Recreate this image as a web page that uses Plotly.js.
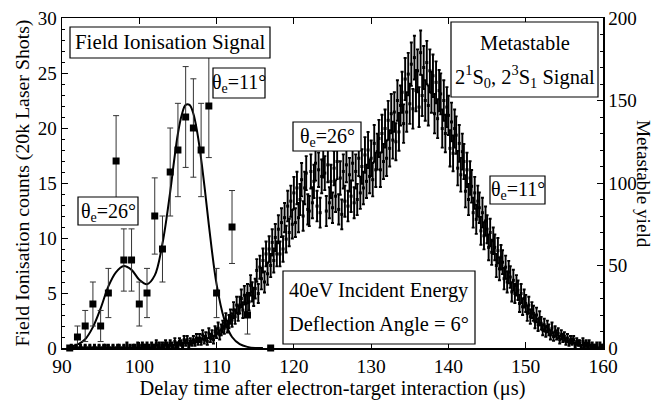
<!DOCTYPE html>
<html>
<head>
<meta charset="utf-8">
<script src="https://cdn.plot.ly/plotly-3.0.1.min.js"></script>
<style>
html,body{margin:0;padding:0;background:#fff;}
#chart{width:660px;height:404px;}
</style>
</head>
<body>
<div id="chart"></div>
<script>
// ---- Field ionisation data (left axis) ----
const fiTime = [91, 92, 93, 94, 95, 96, 97, 98, 99, 100, 101, 102, 103, 104, 105, 106, 107, 108, 109, 110, 112, 114, 117];
const fiCounts = [0, 1, 2, 4, 2, 5, 17, 8, 8, 4, 5, 12, 9, 16, 18, 21, 20, 18, 22, 5, 11, 3, 0];

// ---- Fit curve ----
const fitTime = [91, 92, 93, 94, 95, 96, 97, 98, 99, 100, 101, 102, 103, 104, 104.5, 105, 105.5, 106, 106.5, 107, 107.5, 108, 108.5, 109, 110, 111, 112, 113, 114, 115, 116];
const fitCounts = [0.1, 0.3, 0.8, 1.9, 3.6, 5.6, 6.9, 7.45, 7.1, 6.2, 5.8, 6.6, 9.5, 14.2, 17.0, 19.5, 21.2, 22.1, 22.1, 21.3, 19.6, 17.2, 14.3, 11.2, 5.8, 2.6, 1.0, 0.35, 0.1, 0.0, 0.0];

// ---- Metastable yield (right axis), sampled every 0.2 us from 91 us ----
const metaStart = 91;
const metaStep = 0.2;
const metaYield = [
  0, 1, 0, 0, 1,   0, 0, 1, 0, 0,   1, 0, 0, 1, 0,   0, 1, 0, 0, 1,
  0, 0, 1, 1, 0,   1, 0, 0, 1, 0,   0, 1, 1, 0, 0,   1, 0, 2, 0, 1,
  0, 1, 1, 0, 2,   1, 0, 2, 1, 1,   2, 1, 0, 2, 1,   1, 3, 1, 2, 0,
  2, 1, 3, 2, 1,   3, 2, 1, 4, 2,   2, 4, 3, 2, 5,   3, 5, 2, 4, 3,
  5, 3, 6, 4, 6,   4, 8, 5, 7, 4,   9, 6, 8, 5, 10,   9, 12, 8, 11, 13,
  12, 17, 13, 16, 19,   17, 23, 19, 26, 21,   26, 30, 23, 32, 27,   33, 28, 38, 34, 31,
  36, 47, 33, 49, 42,   53, 40, 57, 45, 60,   50, 64, 53, 67, 57,   72, 57, 76, 60, 79,
  66, 86, 70, 89, 75,   94, 76, 97, 79, 90,   102, 80, 97, 106, 84,   83, 107, 88, 101, 112,
  86, 108, 82, 104, 114,   106, 83, 111, 88, 101,   85, 109, 92, 113, 84,   103, 81, 107, 89, 111,
  86, 105, 92, 112, 88,   107, 90, 115, 94, 110,   97, 117, 101, 120, 104,   115, 102, 124, 108, 119,
  127, 108, 130, 113, 133,   115, 138, 121, 142, 126,   143, 125, 150, 131, 147,   155, 136, 163, 143, 166,
  148, 172, 145, 176, 156,   168, 146, 179, 153, 170,   150, 173, 147, 168, 155,   165, 142, 161, 139, 156,
  154, 133, 150, 130, 146,   141, 121, 137, 118, 133,   129, 109, 124, 105, 119,   113, 95, 108, 90, 103,
  98, 82, 94, 78, 89,   85, 71, 82, 68, 77,   72, 61, 70, 58, 65,   61, 50, 59, 48, 55,
  52, 42, 49, 40, 46,   43, 34, 41, 33, 38,   35, 27, 33, 25, 30,   27, 21, 26, 19, 23,
  21, 16, 20, 14, 18,   15, 11, 14, 10, 13,   11, 8, 12, 7, 10,   8, 9, 5, 8, 6,
  7, 4, 6, 3, 5,   4, 5, 2, 4, 3,   3, 1, 4, 2, 3,   2, 3, 1, 2, 1,
  1, 2, 0, 2, 1,   1
];
const metaTime = metaYield.map((_, i) => +(metaStart + i * metaStep).toFixed(2));

// ---- Axis ticks ----
const xTicks = [90, 100, 110, 120, 130, 140, 150, 160];
const yTicks = [0, 5, 10, 15, 20, 25, 30];
const y2Ticks = [0, 50, 100, 150, 200];

const FONT = 'Liberation Serif';

const traces = [
  {
    x: metaTime, y: metaYield, yaxis: 'y2', type: 'scatter', mode: 'markers',
    marker: {symbol: 'square', size: 3, color: '#000'},
    error_y: {type: 'sqrt', visible: true, color: '#000', thickness: 1.9, width: 1.5},
    hoverinfo: 'skip', showlegend: false
  },
  {
    x: fitTime, y: fitCounts, type: 'scatter', mode: 'lines',
    line: {color: '#000', width: 2, shape: 'spline', smoothing: 1},
    showlegend: false, hoverinfo: 'skip'
  },
  {
    x: fiTime, y: fiCounts, type: 'scatter', mode: 'markers',
    marker: {symbol: 'square', size: 7, color: '#000'},
    error_y: {type: 'sqrt', visible: true, color: '#333', thickness: 1, width: 3},
    cliponaxis: false, showlegend: false, hoverinfo: 'skip'
  }
];

const L = 62, R = 603, T = 18, B = 348;
function px(x){ return (x - L) / (R - L); }
function py(y){ return (B - y) / (B - T); }
function box(x0, x1, y0, y1){
  return {type: 'rect', xref: 'paper', yref: 'paper', x0: px(x0), x1: px(x1), y0: py(y1), y1: py(y0),
          line: {color: '#000', width: 1.2}, fillcolor: '#fff', layer: 'above'};
}
function txt(x, y, t, size){
  return {xref: 'paper', yref: 'paper', x: px(x), y: py(y), text: t, showarrow: false,
          xanchor: 'center', yanchor: 'middle', font: {family: FONT, size: size || 20, color: '#000'}};
}

const layout = {
  width: 660, height: 404,
  margin: {l: L, r: 660 - R, t: T, b: 404 - B},
  paper_bgcolor: '#fff', plot_bgcolor: '#fff',
  font: {family: FONT, size: 19, color: '#000'},
  showlegend: false,
  xaxis: {
    range: [90, 160], tickvals: xTicks, ticks: 'inside', ticklen: 6, tickwidth: 1, tickcolor: '#000',
    showline: true, linecolor: '#000', linewidth: 1.5, mirror: 'ticks', showgrid: false, zeroline: false,
    tickfont: {family: FONT, size: 19.5, color: '#000'},
    title: {text: 'Delay time after electron-target interaction (μs)', font: {family: FONT, size: 20.4, color: '#000'}, standoff: 3}
  },
  yaxis: {
    range: [0, 30], tickvals: yTicks, ticks: 'inside', ticklen: 6, tickwidth: 1, tickcolor: '#000',
    minor: {dtick: 1, ticks: 'inside', ticklen: 3, tickcolor: '#000'},
    showline: true, linecolor: '#000', linewidth: 1.5, showgrid: false, zeroline: false,
    tickfont: {family: FONT, size: 19, color: '#000'},
    title: {text: 'Field Ionisation counts (20k Laser Shots)', font: {family: FONT, size: 19.8, color: '#000'}, standoff: 3}
  },
  yaxis2: {
    overlaying: 'y', side: 'right', range: [0, 200], tickvals: y2Ticks,
    ticks: 'inside', ticklen: 6, tickwidth: 1, tickcolor: '#000',
    minor: {dtick: 10, ticks: 'inside', ticklen: 3, tickcolor: '#000'},
    showline: true, linecolor: '#000', linewidth: 1.5, showgrid: false, zeroline: false,
    tickfont: {family: FONT, size: 19, color: '#000'}
  },
  shapes: [
    box(70, 270, 27, 58),
    box(213, 265, 68, 98),
    box(78, 138, 197, 225),
    box(293, 361, 122, 151),
    box(490, 545, 176, 204),
    box(451, 598, 22, 97),
    box(283, 475, 271, 344)
  ],
  annotations: [
    txt(170, 42.5, 'Field Ionisation Signal', 20.9),
    txt(239, 84, 'θ<sub>e</sub>=11°', 20),
    txt(108, 212, 'θ<sub>e</sub>=26°', 20),
    txt(327, 137.5, 'θ<sub>e</sub>=26°', 20),
    txt(517.5, 191, 'θ<sub>e</sub>=11°', 20),
    txt(524.5, 43, 'Metastable', 20.5),
    txt(524.5, 76, '2<sup>1</sup>S<sub>0</sub>, 2<sup>3</sup>S<sub>1</sub> Signal', 20.5),
    txt(379, 290, '40eV Incident Energy', 20.4),
    txt(379, 324, 'Deflection Angle = 6°', 20.4),
    {xref: 'paper', yref: 'paper', x: px(644), y: py(184), text: 'Metastable yield', showarrow: false,
     textangle: 90, xanchor: 'center', yanchor: 'middle', font: {family: FONT, size: 19.2, color: '#000'}}
  ]
};

Plotly.newPlot('chart', traces, layout, {staticPlot: true, displayModeBar: false});
</script>
</body>
</html>
